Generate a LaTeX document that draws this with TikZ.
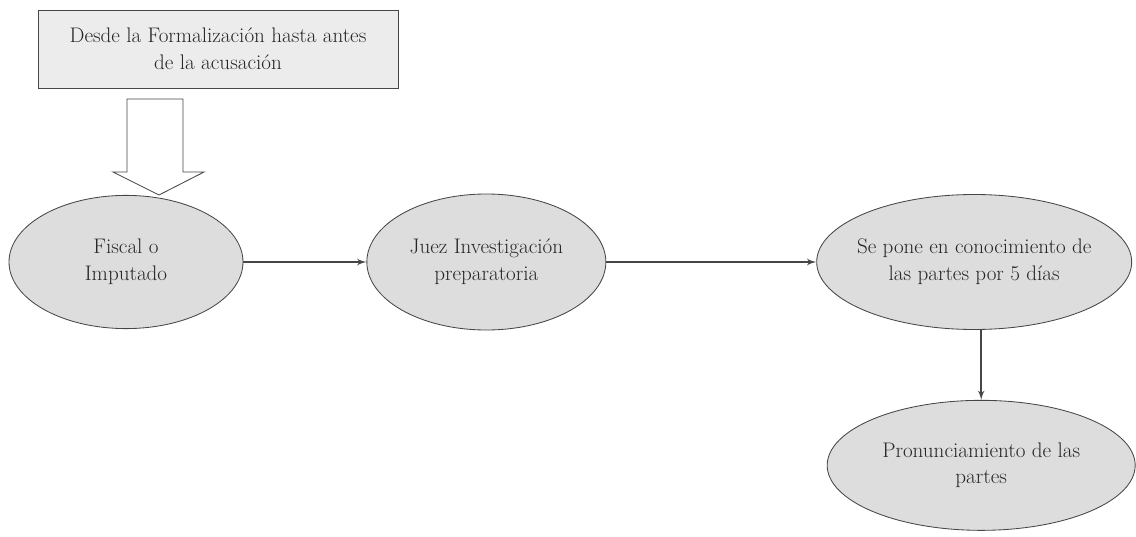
\documentclass[tikz,border=0pt]{standalone}
\usepackage{xcolor}
\usepackage{tikz}
\usetikzlibrary {positioning}
\usetikzlibrary{arrows,shapes.geometric}
\definecolor{fillgray}{RGB}{221,221,221}
\definecolor{boxgray}{RGB}{236,236,236}
\definecolor{linegray}{RGB}{70,70,70}
\tikzset{edge/.style = {->,> = latex', draw=linegray, line width=1.3pt}}

\begin{document}
\begin{tikzpicture}[auto,node distance=1.5cm, thick,
    main node/.style={ellipse,draw=linegray,line width=0.6pt,fill=fillgray,align=center,text=black!85,font=\fontsize{15}{19}\selectfont,inner xsep=-1.5cm,inner ysep=-0.3cm},
    top box/.style={rectangle,draw=linegray,line width=0.6pt,fill=boxgray,align=center,text=black!85,font=\fontsize{15}{19}\selectfont}]
                \useasboundingbox (0,0) rectangle (28.4,-13.425);
                \node[top box, minimum width=9cm, minimum height=1.95cm] (desde) at (5.45,-1.225) {Desde la Formalización hasta antes\\de la acusación};
                \node[main node, minimum width=5.85cm, minimum height=3.33cm] (fiscal) at (3.15,-6.55) {Fiscal o\\Imputado};
                \node[main node, minimum width=5.975cm, minimum height=3.4cm] (juez) [right=3.075cm of fiscal] {Juez Investigación\\preparatoria};
                \node[main node, minimum width=7.875cm, minimum height=3.375cm] (pone) [right=5.25cm of juez] {Se pone en conocimiento de\\las partes por 5 días};
                \node[main node, minimum width=7.7cm, minimum height=3.25cm] (partes) [below=1.75cm of pone, xshift=0.175cm] {Pronunciamiento de las\\partes};

                % flecha hueca
                \draw[linegray, line width=0.6pt, fill=white] (3.175,-2.475) -- (4.575,-2.475) -- (4.575,-4.3) -- (5.1,-4.3)
                    -- (3.975,-4.875) -- (2.825,-4.3) -- (3.175,-4.3) -- cycle;

                \path[every node/.style={font=\sffamily\small}]
                    (fiscal) edge[edge] (juez)
                    (juez) edge[edge] (pone)
                    (pone.south -| partes.north) edge[edge] (partes.north)
                    ;
            \end{tikzpicture}
\end{document}
